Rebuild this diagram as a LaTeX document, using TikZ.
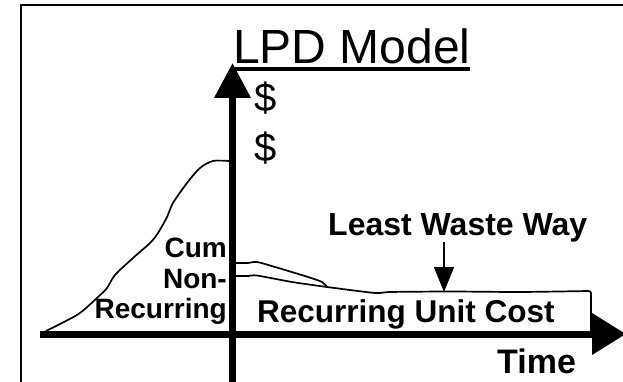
\documentclass[tikz,border=0pt]{standalone}
\usepackage{fontspec}
\setmainfont{Liberation Sans}
\usetikzlibrary{arrows.meta}
\begin{document}
\begin{tikzpicture}[x=1pt,y=-1pt,
  lbl/.style={inner sep=0pt, font=\bfseries\fontsize{31.5}{31.5}\selectfont},
  side/.style={inner sep=0pt, anchor=base east, font=\bfseries\fontsize{28}{28}\selectfont},
  curve/.style={line width=1.7pt, line join=round, line cap=round},
  axis/.style={line width=7pt}]
\useasboundingbox (0,0) rectangle (623,382);
\clip (0,0) rectangle (623,382);
% frame
\draw[line width=2.2pt] (21,395) -- (21,5) -- (640,5);
% title
\node[inner sep=0pt, anchor=base west, font=\fontsize{48}{48}\selectfont] (title) at (233,64) {LPD Model};
\draw[line width=3.5pt] (233,69) -- (470,69);
% axes
\coordinate (vbot) at (232.5,395);
\coordinate (vtop) at (232.5,63);
\coordinate (hleft) at (40,334);
\coordinate (htip) at (626,334);
\draw[axis, -{Triangle[length=35pt,width=35pt]}] (vbot) -- (vtop);
\draw[axis, -{Triangle[length=34pt,width=40pt]}] (hleft) -- (htip);
% dollar signs
\node[inner sep=0pt, anchor=base, font=\fontsize{40}{40}\selectfont] (d1) at (265.5,112) {\$};
\node[inner sep=0pt, anchor=base, font=\fontsize{40}{40}\selectfont] (d2) at (265.5,162) {\$};
% left cumulative curve
\draw[curve] plot[smooth, tension=0.5] coordinates {(46,331) (62,323) (80,313) (98,297) (107,288) (115,275) (133,258) (150,243) (158,233) (167,217) (173,203) (187,183) (200,168) (213,161) (229,161)};
% upper line
\draw[curve] plot[smooth, tension=0.5] coordinates {(236,263) (248,263) (257,262) (275,267) (308,277) (322,282) (327,287)};
% lower line into recurring box
\draw[curve] plot[smooth, tension=0.4] coordinates {(236,276) (248,276) (257,275.5) (292,282) (327,287) (375,293) (390,292) (450,291.5) (520,292) (588,291)};
\draw[curve] (588,291) .. controls (592,291) and (591,294) .. (591,298) -- (591,331);
% labels
\node[lbl, anchor=base west, font=\bfseries\fontsize{32}{32}\selectfont] (lww) at (328,235) {Least Waste Way};
\coordinate (ltip) at (444,292);
\draw[line width=1.5pt, -{Triangle[length=25pt,width=20pt]}] (lww.south -| ltip) -- (ltip);
\node[lbl, anchor=base west] (ruc) at (257,322) {Recurring Unit Cost};
\node[lbl, anchor=base west, font=\bfseries\fontsize{34}{34}\selectfont] (time) at (497,373) {Time};
\node[side] (cum) at (227,257) {Cum};
\node[side] (non) at (227,288) {Non-};
\node[side] (rec) at (227,318) {Recurring};
\end{tikzpicture}
\end{document}
